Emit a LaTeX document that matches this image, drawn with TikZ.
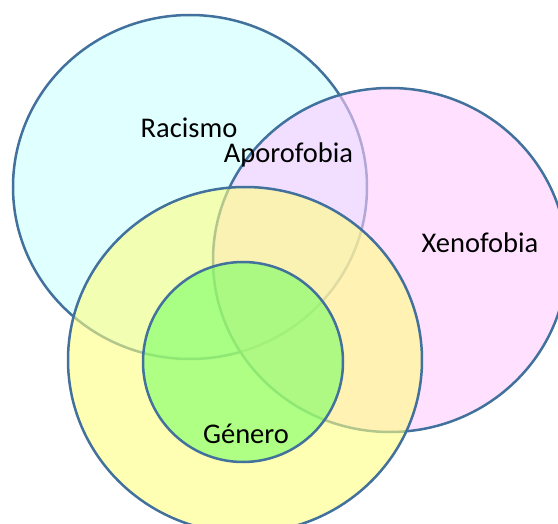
\documentclass[tikz,border=0pt]{standalone}
\usepackage{fontspec}
\setmainfont{Carlito}
\definecolor{setline}{HTML}{41719C}
\definecolor{racismofill}{HTML}{E0FFFF}
\definecolor{xenofill}{RGB}{255,203,255}
\definecolor{generofill}{RGB}{255,255,128}
\definecolor{nucleofill}{RGB}{120,255,100}
\tikzset{
	setring/.style={draw=setline, line width=2.5pt},
	setname/.style={anchor=base, inner sep=0pt, font=\fontsize{28.5}{34}\selectfont}
}
\begin{document}
\begin{tikzpicture}[x=1pt, y=-1pt]

	\useasboundingbox (0,0) rectangle (558,524);
	\clip (0,0) rectangle (558,524);

	% sets
	\draw[setring, fill=racismofill] (190,187) ellipse [x radius=177, y radius=172];
	\draw[setring, fill=xenofill, fill opacity=0.6] (390,260) ellipse [x radius=177, y radius=172];
	\draw[setring, fill=generofill, fill opacity=0.6] (245,360) ellipse [x radius=177, y radius=173];
	\draw[setring, fill=nucleofill, fill opacity=0.6] (243,362) circle [radius=100];

	% names
	\node[setname] (racismo) at (189,138) {Racismo};
	\node[setname] (aporofobia) at (288.5,163) {Aporofobia};
	\node[setname] (xenofobia) at (480,253) {Xenofobia};
	\node[setname] (genero) at (246,443) {Género};

\end{tikzpicture}
\end{document}
